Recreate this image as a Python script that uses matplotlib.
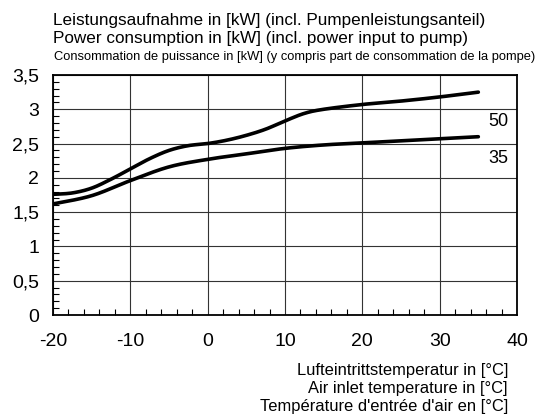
import numpy as np
import matplotlib.pyplot as plt
from matplotlib import font_manager
from matplotlib.ticker import MultipleLocator, FuncFormatter

plt.rcParams['font.family'] = ['Liberation Sans', 'DejaVu Sans']
plt.rcParams['axes.unicode_minus'] = False

# Lufteintrittstemperatur [°C]
temp_50 = [-20, -17.5, -15, -12.5, -10, -7.5, -5, -2.5, 0, 2.5, 5, 7.5, 10, 12.5, 15, 20, 25, 30, 35]
power_50 = [1.76, 1.78, 1.85, 1.98, 2.13, 2.28, 2.40, 2.47, 2.50, 2.55, 2.62, 2.71, 2.83, 2.94, 3.00, 3.07, 3.12, 3.18, 3.25]

temp_35 = [-20, -15, -10, -5, 0, 5, 10, 15, 20, 25, 30, 35]
power_35 = [1.62, 1.74, 1.96, 2.16, 2.27, 2.35, 2.43, 2.48, 2.51, 2.54, 2.57, 2.60]

fig = plt.figure(figsize=(5.39, 4.20), dpi=100)
ax = fig.add_axes([53 / 539, 105 / 420, 464 / 539, 240 / 420])

def smooth(x, y):
    x = np.asarray(x, float)
    y = np.asarray(y, float)
    xs, ys = [], []
    for i in range(len(x) - 1):
        p0 = (x[i - 1], y[i - 1]) if i > 0 else (x[i], y[i])
        p1 = (x[i], y[i])
        p2 = (x[i + 1], y[i + 1])
        p3 = (x[i + 2], y[i + 2]) if i + 2 < len(x) else (x[i + 1], y[i + 1])
        t = np.linspace(0, 1, 30, endpoint=False)
        for k in range(2):
            a, b, c, d = p0[k], p1[k], p2[k], p3[k]
            v = 0.5 * ((2 * b) + (-a + c) * t + (2 * a - 5 * b + 4 * c - d) * t ** 2
                       + (-a + 3 * b - 3 * c + d) * t ** 3)
            (xs if k == 0 else ys).extend(v)
    xs.append(x[-1]); ys.append(y[-1])
    return np.array(xs), np.array(ys)

for tx, py in [(temp_50, power_50), (temp_35, power_35)]:
    sx, sy = smooth(tx, py)
    ax.plot(sx, sy, color='black', lw=2.6, solid_capstyle='round', zorder=3)

ax.text(38.9, 2.82, '50', fontsize=13, ha='right', va='center')
ax.text(38.9, 2.28, '35', fontsize=13, ha='right', va='center')

ax.set_xlim(-20, 40)
ax.set_ylim(0, 3.5)
ax.xaxis.set_major_locator(MultipleLocator(10))
ax.xaxis.set_minor_locator(MultipleLocator(2))
ax.yaxis.set_major_locator(MultipleLocator(0.5))
ax.yaxis.set_minor_locator(MultipleLocator(0.1))
ax.yaxis.set_major_formatter(FuncFormatter(lambda v, p: f'{v:g}'.replace('.', ',')))
ax.tick_params(which='major', length=0, labelsize=14)
ax.tick_params(axis='y', which='major', pad=10)
ax.tick_params(axis='x', which='major', pad=13)
ax.tick_params(which='minor', direction='in', length=4, width=0.8)
ax.grid(which='major', color='#333333', lw=0.8)
for s in ax.spines.values():
    s.set_linewidth(1.3)

# schmale Schrift für die französische Zeile, falls vorhanden
names = {f.name for f in font_manager.fontManager.ttflist}
if 'Liberation Sans Narrow' in names:
    narrow, narrow_size = ['Liberation Sans Narrow', 'Liberation Sans'], 11.3
else:
    narrow, narrow_size = ['Liberation Sans', 'DejaVu Sans'], 9.3

fig.text(53 / 539, 1 - 20 / 420, 'Leistungsaufnahme in [kW] (incl. Pumpenleistungsanteil)', fontsize=12.3, va='center')
fig.text(53 / 539, 1 - 38 / 420, 'Power consumption in [kW] (incl. power input to pump)', fontsize=12.3, va='center')
fig.text(54 / 539, 1 - 57 / 420, 'Consommation de puissance in [kW] (y compris part de consommation de la pompe)',
         fontsize=narrow_size, family=narrow, va='center')

fig.text(508 / 539, 1 - 370 / 420, 'Lufteintrittstemperatur in [°C]', fontsize=11.9, ha='right', va='center')
fig.text(508 / 539, 1 - 388 / 420, 'Air inlet temperature in [°C]', fontsize=11.9, ha='right', va='center')
fig.text(508 / 539, 1 - 406 / 420, "Température d'entrée d'air en [°C]", fontsize=11.9, ha='right', va='center')

fig.savefig('out.png', dpi=100)
